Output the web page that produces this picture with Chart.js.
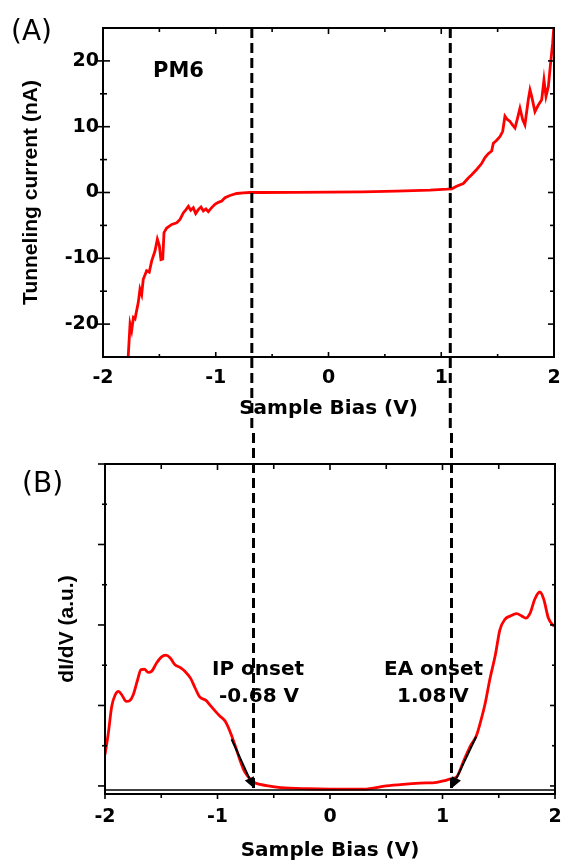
<!DOCTYPE html>
<html>
<head>
<meta charset="utf-8">
<script src="https://cdn.jsdelivr.net/npm/chart.js@4.4.0/dist/chart.umd.min.js"></script>
<style>
  html, body { margin: 0; padding: 0; background: #fff; }
  #wrap { position: relative; width: 563px; height: 863px; }
  canvas { position: absolute; left: 0; }
  #chartA { top: 0; }
  #chartB { top: 430px; }
</style>
</head>
<body>
<div id="wrap">
  <canvas id="chartA" width="563" height="430"></canvas>
  <canvas id="chartB" width="563" height="433"></canvas>
</div>
<script>
// (A) corrente de tunelamento x bias
const biasA = [-1.78, -1.76, -1.746, -1.73, -1.716, -1.687, -1.672, -1.657, -1.643, -1.613,
  -1.59, -1.568, -1.539, -1.518, -1.50, -1.486, -1.47, -1.459, -1.435, -1.39,
  -1.346, -1.317, -1.288, -1.264, -1.243, -1.222, -1.199, -1.178, -1.155, -1.131,
  -1.11, -1.087, -1.066, -1.036, -1.007, -0.977, -0.947, -0.918, -0.874, -0.814,
  -0.756, -0.696, -0.6, -0.3, 0, 0.3, 0.6, 0.9, 1.05, 1.093,
  1.136, 1.196, 1.24, 1.27, 1.314, 1.358, 1.388, 1.417, 1.447, 1.462,
  1.49, 1.521, 1.545, 1.565, 1.586, 1.61, 1.63, 1.654, 1.674, 1.698,
  1.722, 1.742, 1.772, 1.787, 1.802, 1.831, 1.861, 1.891, 1.911, 1.929,
  1.95, 1.97, 1.988, 2.0];
const currentA = [-26, -20, -21, -19, -19.2, -16.7, -14.7, -15.5, -13.2, -11.9,
  -12.1, -10.4, -8.9, -7.1, -8.1, -10.2, -10.1, -6.1, -5.4, -4.85,
  -4.6, -4.1, -3.1, -2.6, -2.1, -2.7, -2.3, -3.2, -2.6, -2.2,
  -2.8, -2.5, -2.9, -2.3, -1.8, -1.5, -1.3, -0.8, -0.45, -0.15,
  -0.05, 0, 0, 0.02, 0.05, 0.1, 0.2, 0.35, 0.5, 0.56,
  0.95, 1.36, 2.2, 2.7, 3.5, 4.4, 5.3, 5.9, 6.3, 7.5,
  7.9, 8.5, 9.3, 11.6, 11.1, 10.8, 10.3, 9.8, 11.1, 12.8,
  11.1, 10.3, 14.1, 15.6, 14.6, 12.3, 13.3, 14.1, 17.1, 14.6,
  16.1, 19.7, 22.7, 25.5];

// (B) dI/dV x bias
const biasB = [-2.0, -1.97, -1.94, -1.91, -1.88, -1.85, -1.81, -1.78, -1.75, -1.71,
  -1.68, -1.65, -1.615, -1.585, -1.54, -1.50, -1.46, -1.42, -1.38, -1.33,
  -1.29, -1.24, -1.20, -1.16, -1.10, -1.07, -1.02, -0.98, -0.93, -0.89,
  -0.84, -0.80, -0.76, -0.71, -0.67, -0.62, -0.55, -0.44, -0.2, 0,
  0.3, 0.5, 0.65, 0.8, 0.95, 1.03, 1.08, 1.13, 1.185, 1.245,
  1.30, 1.335, 1.38, 1.42, 1.47, 1.51, 1.555, 1.60, 1.66, 1.705,
  1.74, 1.78, 1.82, 1.865, 1.90, 1.94, 1.98, 2.0];
const didvB = [0.39, 0.66, 0.99, 1.13, 1.175, 1.13, 1.05, 1.06, 1.13, 1.32,
  1.445, 1.45, 1.41, 1.425, 1.53, 1.60, 1.625, 1.59, 1.51, 1.47,
  1.425, 1.34, 1.22, 1.11, 1.06, 1.01, 0.93, 0.87, 0.80, 0.68,
  0.49, 0.32, 0.18, 0.085, 0.04, 0.02, 0.0, -0.02, -0.035, -0.04,
  -0.04, 0.0, 0.02, 0.035, 0.045, 0.07, 0.09, 0.12, 0.30, 0.49,
  0.62, 0.78, 1.03, 1.32, 1.63, 1.94, 2.07, 2.11, 2.14, 2.11,
  2.085, 2.15, 2.32, 2.41, 2.32, 2.09, 2.0, 1.99];

const xTicks = [-2, -1, 0, 1, 2];
const yTicksA = [-20, -10, 0, 10, 20];
const yTicksB = [0, 1, 2, 3, 4];

// onsets (V) e setas das tangentes [V, dI/dV]
const onsets = [-0.68, 1.08];
const onsetText = [["IP onset", "-0.68 V"], ["EA onset", "1.08 V"]];
const arrowStart = [[-0.875, 0.58], [1.30, 0.615]];
const arrowEnd = [[-0.676, -0.03], [1.082, -0.03]];
const baselineB = -0.05;

const RED = "#ff0000";
const tickFont = { family: "DejaVu Sans", weight: "bold", size: 19 };
const titleFont = { family: "DejaVu Sans", weight: "bold", size: 20 };
const yTitleFont = { family: "Liberation Sans", weight: "bold", size: 21 };
const DASH = [10, 5];
let dashCarry = 0; // para a linha tracejada continuar do painel A para o B

function midpoints(arr) {
  return arr.slice(0, -1).map((v, i) => (v + arr[i + 1]) / 2);
}

// moldura + marcas de escala: [maiorFora, maiorDentro, menorFora, menorDentro]
function drawFrame(chart, yTicks, spec) {
  const { ctx, chartArea: a, scales: { x, y } } = chart;
  ctx.save();
  ctx.strokeStyle = "#000";
  ctx.lineWidth = 2;
  ctx.strokeRect(a.left, a.top, a.right - a.left, a.bottom - a.top);
  ctx.lineWidth = 1.6;
  const line = (x1, y1, x2, y2) => {
    ctx.beginPath(); ctx.moveTo(x1, y1); ctx.lineTo(x2, y2); ctx.stroke();
  };
  [[xTicks, 0], [midpoints(xTicks), 2]].forEach(([vals, k]) => {
    vals.forEach((v) => {
      const px = x.getPixelForValue(v);
      line(px, a.top - spec.top[k], px, a.top + spec.top[k + 1]);
      line(px, a.bottom + spec.bottom[k], px, a.bottom - spec.bottom[k + 1]);
    });
  });
  [[yTicks, 0], [midpoints(yTicks), 2]].forEach(([vals, k]) => {
    vals.forEach((v) => {
      const py = y.getPixelForValue(v);
      line(a.left - spec.left[k], py, a.left + spec.left[k + 1], py);
      line(a.right + spec.right[k], py, a.right - spec.right[k + 1], py);
    });
  });
  ctx.restore();
}

function dashed(ctx, px, y1, y2, offset) {
  ctx.save();
  ctx.strokeStyle = "#000";
  ctx.lineWidth = 3;
  ctx.setLineDash(DASH);
  ctx.lineDashOffset = offset || 0;
  ctx.beginPath(); ctx.moveTo(px, y1); ctx.lineTo(px, y2); ctx.stroke();
  ctx.restore();
}

const panelA = {
  id: "panelA",
  afterDraw(chart) {
    const { ctx, chartArea: a, scales: { x } } = chart;
    drawFrame(chart, yTicksA, {
      left: [6, 7, 3, 4], right: [0, 6, 0, 4], top: [0, 6, 0, 4], bottom: [0, 5, 0, 3],
    });
    ctx.save();
    ctx.fillStyle = "#000";
    ctx.textBaseline = "alphabetic";
    ctx.textAlign = "left";
    ctx.font = "28px 'DejaVu Sans'";
    ctx.fillText("(A)", 11, 40);
    ctx.font = "bold 21px 'DejaVu Sans'";
    ctx.fillText("PM6", 153, 77);
    ctx.restore();
    onsets.forEach((v) => dashed(ctx, x.getPixelForValue(v), a.top, chart.height));
    dashCarry = (chart.height - a.top) % (DASH[0] + DASH[1]);
  },
};

const panelB = {
  id: "panelB",
  afterDatasetsDraw(chart) {
    const { ctx, chartArea: a, scales: { x, y } } = chart;
    ctx.save();
    ctx.strokeStyle = "#000";
    ctx.fillStyle = "#000";
    ctx.lineWidth = 1.5;
    const yb = y.getPixelForValue(baselineB);
    ctx.beginPath(); ctx.moveTo(a.left, yb); ctx.lineTo(a.right, yb); ctx.stroke();
    ctx.lineWidth = 2;
    arrowStart.forEach((s, i) => {
      const e = arrowEnd[i];
      const x1 = x.getPixelForValue(s[0]), y1 = y.getPixelForValue(s[1]);
      const x2 = x.getPixelForValue(e[0]), y2 = y.getPixelForValue(e[1]);
      const ang = Math.atan2(y2 - y1, x2 - x1);
      const len = 11, w = 5;
      const bx = x2 - len * Math.cos(ang), by = y2 - len * Math.sin(ang);
      ctx.beginPath(); ctx.moveTo(x1, y1); ctx.lineTo(bx, by); ctx.stroke();
      ctx.beginPath();
      ctx.moveTo(x2, y2);
      ctx.lineTo(bx + w * Math.sin(ang), by - w * Math.cos(ang));
      ctx.lineTo(bx - w * Math.sin(ang), by + w * Math.cos(ang));
      ctx.closePath();
      ctx.fill();
    });
    ctx.restore();
  },
  afterDraw(chart) {
    const { ctx, scales: { x, y } } = chart;
    drawFrame(chart, yTicksB, {
      left: [7, 1, 3, 2], right: [0, 5, 0, 3], top: [0, 6, 0, 5], bottom: [5, 0, 4, 0],
    });
    ctx.save();
    ctx.fillStyle = "#000";
    ctx.textAlign = "left";
    ctx.textBaseline = "alphabetic";
    ctx.font = "28px 'DejaVu Sans'";
    ctx.fillText("(B)", 22, 62);
    ctx.font = "bold 20px 'DejaVu Sans'";
    ctx.fillText(onsetText[0][0], 212, 245);
    ctx.fillText(onsetText[0][1], 219, 272);
    ctx.fillText(onsetText[1][0], 384, 245);
    ctx.fillText(onsetText[1][1], 397, 272);
    ctx.restore();
    const yb = y.getPixelForValue(baselineB);
    onsets.forEach((v) => dashed(ctx, x.getPixelForValue(v), 0, yb, dashCarry));
  },
};

function xScale(height, pad, titlePad) {
  return {
    type: "linear",
    min: -2,
    max: 2,
    afterFit: (s) => {
      s.height = height;
      s.paddingLeft = 0;
      s.paddingRight = 0;
    },
    afterBuildTicks: (s) => { s.ticks = xTicks.map((v) => ({ value: v })); },
    grid: { display: false, drawTicks: false },
    border: { display: false },
    ticks: { padding: pad, font: tickFont, color: "#000", maxRotation: 0, callback: (v) => String(v) },
    title: { display: true, text: "Sample Bias (V)", font: titleFont, color: "#000", padding: { top: 0, bottom: titlePad } },
  };
}

function yFit(width) {
  return (s) => {
    s.width = width;
    s.paddingTop = 0;
    s.paddingBottom = 0;
  };
}

new Chart(document.getElementById("chartA"), {
  type: "line",
  data: {
    datasets: [{
      data: biasA.map((v, i) => ({ x: v, y: currentA[i] })),
      borderColor: RED,
      borderWidth: 2.8,
      pointRadius: 0,
      tension: 0,
    }],
  },
  options: {
    responsive: false,
    animation: false,
    layout: { padding: { top: 28, right: 9, left: 0, bottom: 0 } },
    plugins: { legend: { display: false }, tooltip: { enabled: false } },
    scales: {
      x: xScale(73, 10, 9),
      y: {
        min: -25,
        max: 25,
        afterFit: yFit(103),
        afterBuildTicks: (s) => { s.ticks = yTicksA.map((v) => ({ value: v })); },
        grid: { display: false, drawTicks: false },
        border: { display: false },
        ticks: { padding: 4, font: tickFont, color: "#000", callback: (v) => String(v) },
        title: { display: true, text: "Tunneling current (nA)", font: yTitleFont, color: "#000", padding: { top: 19, bottom: 0 } },
      },
    },
  },
  plugins: [panelA],
});

new Chart(document.getElementById("chartB"), {
  type: "line",
  data: {
    datasets: [{
      data: biasB.map((v, i) => ({ x: v, y: didvB[i] })),
      borderColor: RED,
      borderWidth: 2.8,
      pointRadius: 0,
      cubicInterpolationMode: "monotone",
    }],
  },
  options: {
    responsive: false,
    animation: false,
    layout: { padding: { top: 34, right: 8, left: 0, bottom: 0 } },
    plugins: { legend: { display: false }, tooltip: { enabled: false } },
    scales: {
      x: xScale(69, 12, 0),
      y: {
        min: -0.1,
        max: 4.0,
        afterFit: yFit(105),
        afterBuildTicks: (s) => { s.ticks = yTicksB.map((v) => ({ value: v })); },
        grid: { display: false, drawTicks: false },
        border: { display: false },
        ticks: { display: false },
        title: { display: true, text: "dI/dV (a.u.)", font: yTitleFont, color: "#000", padding: { top: 55, bottom: 0 } },
      },
    },
  },
  plugins: [panelB],
});
</script>
</body>
</html>
